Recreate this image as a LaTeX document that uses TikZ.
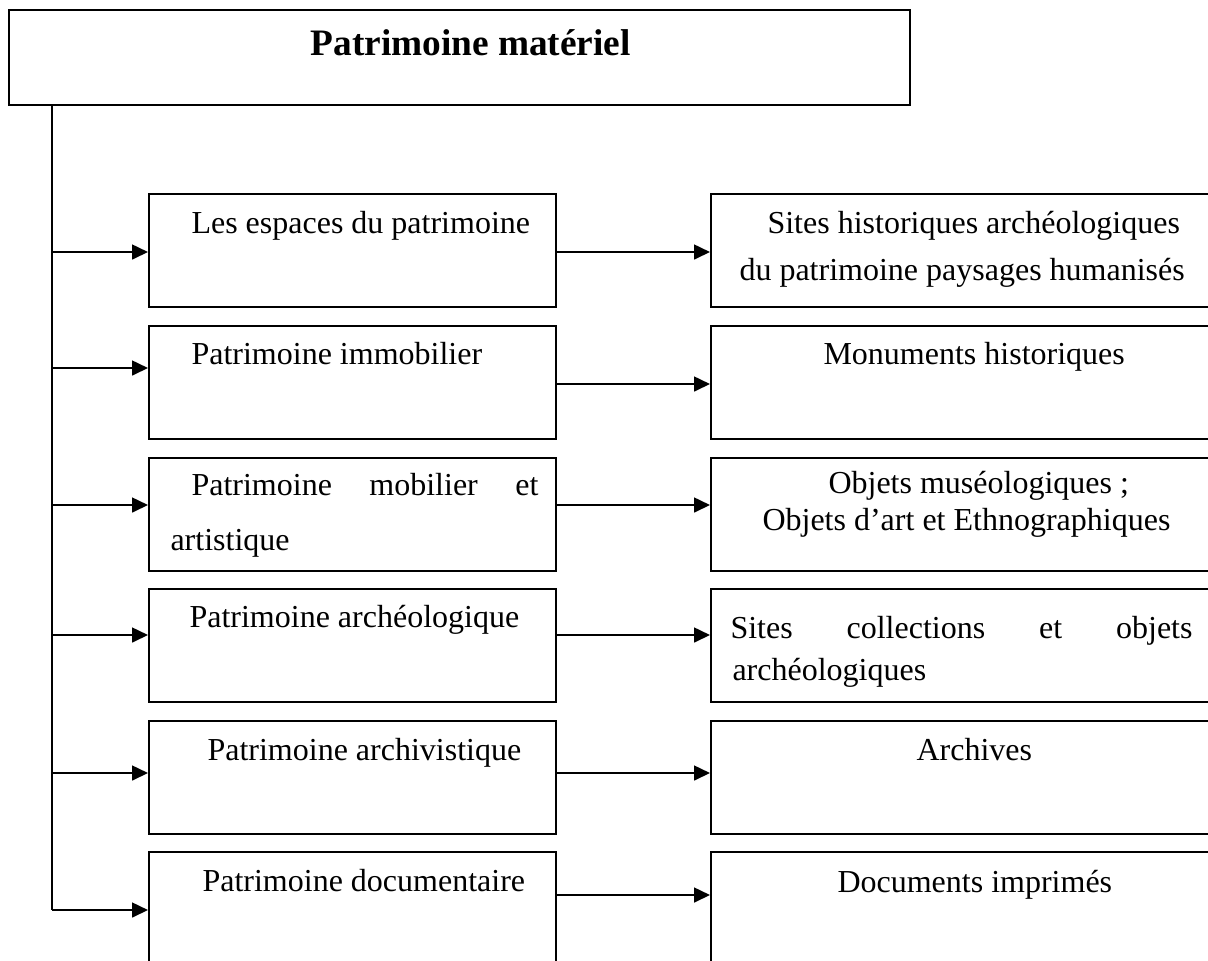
\documentclass[tikz,border=0pt]{standalone}
\usepackage{fontspec}
\setmainfont{Liberation Serif}
\usetikzlibrary{arrows.meta}
\begin{document}
\begin{tikzpicture}[x=0.375pt,y=-0.375pt,
  box/.style={draw, line width=0.7pt, inner sep=0pt, anchor=north west},
  lbox/.style={box, minimum width=152.625pt, minimum height=42.375pt},
  rbox/.style={box, minimum width=195pt, minimum height=42.375pt},
  txt/.style={anchor=base west, inner sep=0pt, font=\fontsize{12}{14}\selectfont},
  ttl/.style={anchor=base west, inner sep=0pt, font=\fontsize{14}{16}\selectfont\bfseries},
  ln/.style={line width=0.7pt},
  arr/.style={line width=0.7pt, -{Triangle[length=6pt,width=5.6pt]}}]
\useasboundingbox (0,0) rectangle (1208,960);
\clip (0,0) rectangle (1208,960);
% boxes
\node[box, minimum width=337.875pt, minimum height=35.625pt] (Top) at (8,9) {};
\node[lbox] (L1) at (148,193) {};
\node[lbox] (L2) at (148,325) {};
\node[lbox] (L3) at (148,457) {};
\node[lbox] (L4) at (148,588) {};
\node[lbox] (L5) at (148,720) {};
\node[lbox] (L6) at (148,851) {};
\node[rbox] (R1) at (710,193) {};
\node[rbox] (R2) at (710,325) {};
\node[rbox] (R3) at (710,457) {};
\node[rbox] (R4) at (710,588) {};
\node[rbox] (R5) at (710,720) {};
\node[rbox] (R6) at (710,851) {};
% texts
\node[ttl] (tT) at (310,55) {Patrimoine matériel};
\node[txt] (t1) at (191,233) {Les espaces du patrimoine};
\node[txt] (t2) at (191,364) {Patrimoine immobilier};
\node[txt] (t3a) at (191,495) {\makebox[130.1pt][s]{Patrimoine mobilier et}};
\node[txt] (t3b) at (170,550) {artistique};
\node[txt] (t4) at (189,627) {Patrimoine archéologique};
\node[txt] (t5) at (207,760) {Patrimoine archivistique};
\node[txt] (t6) at (202,891) {Patrimoine documentaire};
\node[txt] (u1a) at (767,233) {Sites historiques archéologiques};
\node[txt] (u1b) at (739,280) {du patrimoine paysages humanisés};
\node[txt] (u2) at (823,364) {Monuments historiques};
\node[txt] (u3a) at (828,493) {Objets muséologiques ;};
\node[txt] (u3b) at (762,530) {Objets d’art et Ethnographiques};
\node[txt] (u4a) at (730,638) {\makebox[173.25pt][s]{Sites collections et objets}};
\node[txt] (u4b) at (732,680) {archéologiques};
\node[txt] (u5) at (916,760) {Archives};
\node[txt] (u6) at (837,892) {Documents imprimés};
% connector coordinates
\coordinate (a1) at (52,252);
\coordinate (a2) at (52,368);
\coordinate (a3) at (52,505);
\coordinate (a4) at (52,635);
\coordinate (a5) at (52,773);
\coordinate (a6) at (52,910);
\coordinate (b1) at (630,252);
\coordinate (b2) at (630,384);
\coordinate (b3) at (630,505);
\coordinate (b4) at (630,635);
\coordinate (b5) at (630,773);
\coordinate (b6) at (630,895);
% trunk
\draw[ln] (Top.south -| a1) -- (a6);
% left arrows
\draw[arr] (a1) -- (L1.west |- a1);
\draw[arr] (a2) -- (L2.west |- a2);
\draw[arr] (a3) -- (L3.west |- a3);
\draw[arr] (a4) -- (L4.west |- a4);
\draw[arr] (a5) -- (L5.west |- a5);
\draw[arr] (a6) -- (L6.west |- a6);
% right arrows
\draw[arr] (L1.east |- b1) -- (R1.west |- b1);
\draw[arr] (L2.east |- b2) -- (R2.west |- b2);
\draw[arr] (L3.east |- b3) -- (R3.west |- b3);
\draw[arr] (L4.east |- b4) -- (R4.west |- b4);
\draw[arr] (L5.east |- b5) -- (R5.west |- b5);
\draw[arr] (L6.east |- b6) -- (R6.west |- b6);
\end{tikzpicture}
\end{document}
